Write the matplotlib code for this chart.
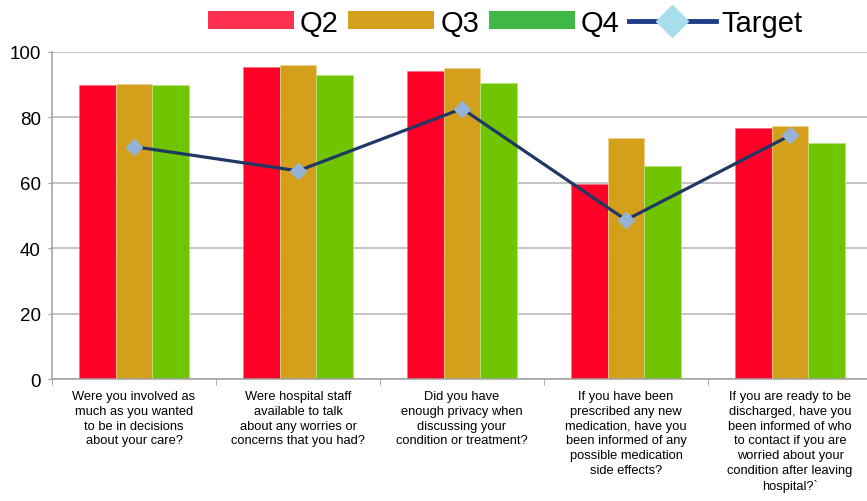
import numpy as np
import matplotlib.pyplot as plt
from matplotlib.patches import Patch
from matplotlib.lines import Line2D

plt.rcParams['font.family'] = ['Liberation Sans', 'DejaVu Sans']

categories = [
    "Were you involved as\nmuch as you wanted\nto be in decisions\nabout your care?",
    "Were hospital staff\navailable to talk\nabout any worries or\nconcerns that you had?",
    "Did you have\nenough privacy when\ndiscussing your\ncondition or treatment?",
    "If you have been\nprescribed any new\nmedication, have you\nbeen informed of any\npossible medication\nside effects?",
    "If you are ready to be\ndischarged, have you\nbeen informed of who\nto contact if you are\nworried about your\ncondition after leaving\nhospital?`",
]
q2 = [89.7, 95.3, 94.2, 59.6, 76.7]
q3 = [90.1, 96.0, 95.1, 73.6, 77.4]
q4 = [89.9, 93.0, 90.5, 65.2, 72.1]
target = [71.0, 63.6, 82.6, 48.6, 74.4]
y_ticks = [0, 20, 40, 60, 80, 100]

bar_colors = ['#FF0028', '#D4A01C', '#70C400']
edge_colors = ['#FF7088', '#EED28A', '#B8E080']
legend_colors = ['#FF3050', '#D4A020', '#40B848']

fig = plt.figure(figsize=(8.67, 5.02), dpi=100)
ax = fig.add_axes([0.06, 0.243, 0.9458, 0.652])

x = np.arange(len(categories))
w = 0.222
for i, vals in enumerate([q2, q3, q4]):
    ax.bar(x + (i - 1) * w, vals, width=w, color=bar_colors[i],
           edgecolor=edge_colors[i], linewidth=0.6, zorder=2)

ax.plot(x, target, color='#1F3864', linewidth=2.3, marker='D', markersize=8,
        markerfacecolor='#95B3D7', markeredgecolor='#95B3D7', zorder=3)

ax.set_xlim(-0.5, len(categories) - 0.5)
ax.set_ylim(0, 100)
ax.set_yticks(y_ticks)
ax.tick_params(axis='y', labelsize=13.5, length=3, color='#A0A0A0', pad=5)
ax.yaxis.grid(True, color='#B4B4B4', linewidth=1.1, zorder=0)
ax.set_axisbelow(True)

ax.set_xticks(x)
ax.set_xticklabels(categories, fontsize=9.3, linespacing=1.3)
ax.tick_params(axis='x', length=0, pad=8)
ax.set_xticks(np.arange(-0.5, len(categories)), minor=True)
ax.tick_params(axis='x', which='minor', length=4, color='#A0A0A0')

for side in ['top', 'right']:
    ax.spines[side].set_visible(False)
for side in ['left', 'bottom']:
    ax.spines[side].set_color('#A0A0A0')
    ax.spines[side].set_linewidth(1.1)

handles = [Patch(facecolor=legend_colors[i], edgecolor='none') for i in range(3)]
handles.append(Line2D([0], [0], color='#1F3C88', linewidth=3.5, marker='D',
                      markersize=16, markerfacecolor='#A8DDEC',
                      markeredgecolor='#A8DDEC'))
fig.legend(handles, ['Q2', 'Q3', 'Q4', 'Target'], loc='center',
           bbox_to_anchor=(0.5825, 0.953), ncol=4, frameon=False, fontsize=21,
           handlelength=2.95, handleheight=0.57, handletextpad=0.2,
           columnspacing=0.34, borderaxespad=0)

fig.savefig('out.png', dpi=100)
